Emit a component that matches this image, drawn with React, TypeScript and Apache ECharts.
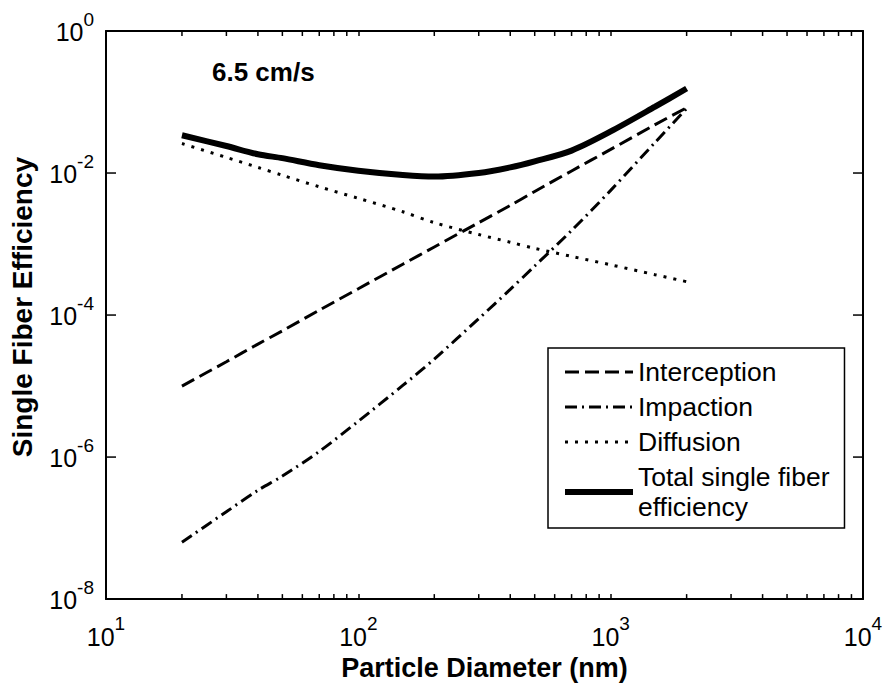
import React, { useEffect, useRef } from 'react';
import * as echarts from 'echarts';

const FONT = 'Arial, "Liberation Sans", Helvetica, sans-serif';

const diameters = [20, 30, 40, 50, 70, 100, 150, 200, 300, 400, 500, 700, 1000, 1500, 2000];
const interception = [1.0e-5, 2.2e-5, 3.9e-5, 6.0e-5, 1.17e-4, 2.35e-4, 5.2e-4, 9.1e-4, 2.0e-3, 3.5e-3, 5.5e-3, 1.07e-2, 2.15e-2, 4.8e-2, 8.3e-2];
const impaction = [6.3e-8, 1.7e-7, 3.4e-7, 5.4e-7, 1.2e-6, 3.2e-6, 1.02e-5, 2.4e-5, 8.9e-5, 2.3e-4, 4.9e-4, 1.55e-3, 5.7e-3, 2.7e-2, 8.1e-2];
const diffusion = [0.026, 0.0166, 0.012, 0.0093, 0.0064, 0.0044, 0.00285, 0.002, 1.36e-3, 1.06e-3, 8.7e-4, 6.7e-4, 5.1e-4, 3.7e-4, 2.95e-4];
const total = [0.034, 0.024, 0.0184, 0.0162, 0.0129, 0.0108, 0.0094, 0.0089, 0.0100, 0.012, 0.0146, 0.0207, 0.0385, 0.086, 0.155];

const X_MIN = 10;
const X_MAX = 10000;
const Y_MIN = 1e-8;
const Y_MAX = 1;
const xMinorTicks = [20, 30, 40, 50, 60, 70, 80, 90, 200, 300, 400, 500, 600, 700, 800, 900, 2000, 3000, 4000, 5000, 6000, 7000, 8000, 9000];
const yMajorTicks = [1e-8, 1e-6, 1e-4, 1e-2, 1];

const NAMES = ['Interception', 'Impaction', 'Diffusion', 'Total single fiber efficiency'];
const LINE_STYLES = [
  { width: 3, type: [14, 6], color: '#000' },
  { width: 3, type: [12, 5, 2, 5], color: '#000' },
  { width: 3, type: [3, 7], color: '#000' },
  { width: 6, type: 'solid', color: '#000' },
];

const pairs = (ys: number[]) => diameters.map((d, i) => [d, ys[i]]);

const supRich = {
  b: { fontSize: 25, lineHeight: 35, verticalAlign: 'bottom', color: '#000', fontFamily: FONT },
  s: { fontSize: 19, lineHeight: 16, verticalAlign: 'top', color: '#000', fontFamily: FONT },
};

const expLabel = (v: number) => {
  const e = Math.round(Math.log10(v));
  return `{b|10}{s|${e}}`;
};

export default function App() {
  const ref = useRef<HTMLDivElement>(null);
  useEffect(() => {
    if (!ref.current) return;
    const chart = echarts.init(ref.current, undefined, { renderer: 'svg' });
    const axisLine = { show: true, lineStyle: { color: '#000', width: 2 } };
    const series: any[] = [interception, impaction, diffusion, total].map((ys, i) => ({
      name: NAMES[i], type: 'line', data: pairs(ys), symbol: 'none', showSymbol: false, smooth: 0.3,
      lineStyle: LINE_STYLES[i], itemStyle: { color: '#000' }, z: i === 3 ? 4 : 3,
    }));
    series.push(
      {
        type: 'custom', name: 'xminor', silent: true, clip: false, z: 5,
        data: xMinorTicks.map((v) => [v, Y_MIN]),
        renderItem: (_p: any, api: any) => {
          const x = api.value(0);
          const b = api.coord([x, Y_MIN]);
          const t = api.coord([x, Y_MAX]);
          const st = { stroke: '#000', lineWidth: 1.5 };
          return {
            type: 'group',
            children: [
              { type: 'line', shape: { x1: b[0], y1: b[1], x2: b[0], y2: b[1] - 5 }, style: st },
              { type: 'line', shape: { x1: t[0], y1: t[1], x2: t[0], y2: t[1] + 5 }, style: st },
            ],
          };
        },
      },
      {
        type: 'custom', name: 'ymajor', silent: true, clip: false, z: 5,
        data: yMajorTicks.map((v) => [X_MIN, v]),
        renderItem: (_p: any, api: any) => {
          const y = api.value(1);
          const l = api.coord([X_MIN, y]);
          const r = api.coord([X_MAX, y]);
          const st = { stroke: '#000', lineWidth: 1.5 };
          return {
            type: 'group',
            children: [
              { type: 'line', shape: { x1: l[0], y1: l[1], x2: l[0] + 10, y2: l[1] }, style: st },
              { type: 'line', shape: { x1: r[0], y1: r[1], x2: r[0] - 10, y2: r[1] }, style: st },
            ],
          };
        },
      }
    );
    const option: any = {
      animation: false,
      backgroundColor: '#fff',
      textStyle: { fontFamily: FONT },
      grid: { left: 104, top: 31, right: 25, bottom: 84, containLabel: false },
      xAxis: [
        {
          type: 'log', logBase: 10, min: X_MIN, max: X_MAX, position: 'bottom',
          axisLine,
          axisTick: { show: true, inside: true, length: 5, lineStyle: { color: '#000', width: 1.5 } },
          axisLabel: { show: true, margin: 15, formatter: expLabel, rich: supRich },
          splitLine: { show: false },
          name: 'Particle Diameter (nm)', nameLocation: 'middle', nameGap: 51,
          nameTextStyle: { fontSize: 27, fontWeight: 'bold', color: '#000', fontFamily: FONT },
        },
        {
          type: 'log', logBase: 10, min: X_MIN, max: X_MAX, position: 'top',
          axisLine,
          axisTick: { show: true, inside: true, length: 5, lineStyle: { color: '#000', width: 1.5 } },
          axisLabel: { show: false },
          splitLine: { show: false },
        },
      ],
      yAxis: [
        {
          type: 'log', logBase: 10, min: Y_MIN, max: Y_MAX, position: 'left', splitNumber: 8,
          axisLine,
          axisTick: { show: false },
          axisLabel: {
            show: true, margin: 12, padding: [0, 0, 8, 0],
            formatter: (v: number) => {
              const e = Math.round(Math.log10(v));
              return e % 2 === 0 ? `{b|10}{s|${e}}` : '';
            },
            rich: supRich,
          },
          splitLine: { show: false },
          name: 'Single Fiber Efficiency', nameLocation: 'middle', nameGap: 70,
          nameTextStyle: { fontSize: 28, fontWeight: 'bold', color: '#000', fontFamily: FONT, padding: [0, 0, 0, 16] },
        },
        {
          type: 'log', logBase: 10, min: Y_MIN, max: Y_MAX, position: 'right', splitNumber: 8,
          axisLine,
          axisTick: { show: false },
          axisLabel: { show: false },
          splitLine: { show: false },
        },
      ],
      legend: {
        data: NAMES.map((n, i) => ({
          name: n,
          lineStyle: LINE_STYLES[i],
          itemStyle: { opacity: 0 },
        })),
        formatter: (n: string) => (n === NAMES[3] ? 'Total single fiber\nefficiency' : n),
        orient: 'vertical', left: 548, top: 348,
        itemWidth: 68, itemHeight: 14, itemGap: 5,
        padding: [9, 15, 6, 14],
        backgroundColor: '#fff', borderColor: '#000', borderWidth: 1.5,
        textStyle: { fontSize: 26.5, lineHeight: 30, color: '#000', fontFamily: FONT },
        selectedMode: false,
      },
      graphic: [
        {
          type: 'text', left: 212, top: 59,
          style: { text: '6.5 cm/s', font: `bold 26px ${FONT}`, fill: '#000' },
        },
      ],
      series,
    };
    chart.setOption(option);
    return () => chart.dispose();
  }, []);
  return <div ref={ref} style={{ position: 'absolute', left: 0, top: 0, width: 888, height: 686, background: '#fff' }} />;
}
